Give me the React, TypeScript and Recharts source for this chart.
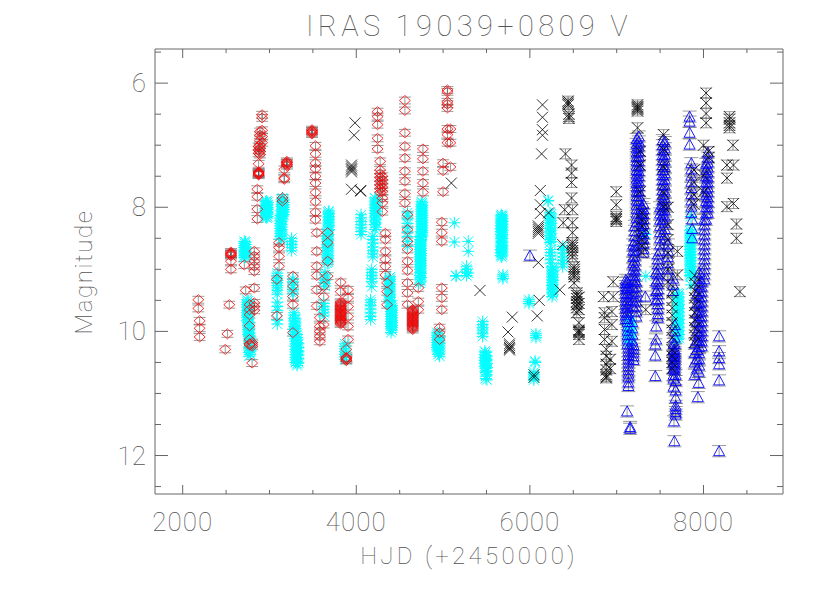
import React from "react";
import { ScatterChart, Scatter, XAxis, YAxis, ErrorBar } from "recharts";

type Col = [number, number[]];

const xTicks = [2000, 2500, 3000, 3500, 4000, 4500, 5000, 5500, 6000, 6500, 7000, 7500, 8000, 8500];
const yTicks = [5.5, 6, 6.5, 7, 7.5, 8, 8.5, 9, 9.5, 10, 10.5, 11, 11.5, 12, 12.5];

// one entry per observing run: [HJD, magnitudes]
const cyanCols: Col[] = [
  [2710, [8.55, 8.58, 8.62, 8.65, 8.69, 8.72, 8.75, 8.78, 8.81]],
  [2742, [9.49, 9.53, 9.57, 9.61, 9.66, 9.7, 9.74, 9.78, 9.83]],
  [2765, [9.86, 9.9, 9.95, 9.99, 10.03, 10.07, 10.11, 10.16, 10.2, 10.25, 10.3, 10.34, 10.4]],
  [2968, [7.9, 7.93, 7.97, 8.0, 8.03, 8.07, 8.1, 8.14, 8.17]],
  [3150, [7.85, 7.89, 7.93, 7.97, 8.01, 8.05, 8.09, 8.13]],
  [3125, [8.13, 8.17, 8.21, 8.26, 8.3, 8.34, 8.38, 8.42, 8.47, 8.52]],
  [3255, [8.5, 8.55, 8.6, 8.65, 8.7]],
  [3090, [9.06, 9.1, 9.14, 9.18, 9.22, 9.26, 9.3, 9.34, 9.4, 9.53, 9.6, 9.66, 9.82, 9.88]],
  [3270, [9.15, 9.2, 9.25, 9.3, 9.35, 9.4]],
  [3285, [9.7, 9.74, 9.79, 9.83, 9.88, 9.92, 9.97, 10.01, 10.05]],
  [3318, [10.05, 10.1, 10.14, 10.18, 10.22, 10.26, 10.31, 10.35, 10.39, 10.44, 10.48, 10.52, 10.55]],
  [3335, [10.2, 10.26, 10.32, 10.38, 10.44, 10.5]],
  [3685, [8.06, 8.1, 8.15, 8.2, 8.25, 8.3, 8.36]],
  [3665, [8.42, 8.46, 8.5, 8.55, 8.6, 8.65, 8.7, 8.75, 8.8, 8.85, 8.9]],
  [3640, [9.05, 9.09, 9.14, 9.18, 9.23, 9.27]],
  [3625, [9.55, 9.6, 9.65, 9.7, 9.75]],
  [3870, [10.2, 10.24, 10.28, 10.32, 10.37, 10.41, 10.45]],
  [4055, [8.12, 8.17, 8.23, 8.28, 8.33, 8.39, 8.44]],
  [4215, [7.85, 7.9, 7.95, 8.0, 8.05, 8.1, 8.16, 8.22, 8.28, 8.36]],
  [4190, [8.47, 8.52, 8.58, 8.64, 8.7, 8.75, 8.8]],
  [4178, [9.0, 9.05, 9.1, 9.15, 9.2, 9.28]],
  [4165, [9.49, 9.53, 9.58, 9.64, 9.7, 9.76, 9.81]],
  [4390, [9.12, 9.16, 9.2, 9.25, 9.3, 9.35, 9.4, 9.45, 9.5, 9.54]],
  [4400, [9.6, 9.64, 9.68, 9.72, 9.76, 9.8, 9.84, 9.88, 9.92, 9.96, 10.02]],
  [4590, [8.09, 8.14, 8.19, 8.26, 8.33, 8.4, 8.47, 8.55, 8.63]],
  [4750, [7.91, 7.95, 7.99, 8.03, 8.07, 8.11, 8.15, 8.19, 8.23, 8.27, 8.31, 8.35, 8.39, 8.43, 8.47]],
  [4735, [8.47, 8.52, 8.56, 8.6, 8.64, 8.68, 8.72, 8.76, 8.8, 8.84, 8.88, 8.92, 8.96, 9.0, 9.05, 9.1, 9.16, 9.22]],
  [4930, [10.02, 10.06, 10.1, 10.14, 10.18, 10.22, 10.26, 10.3]],
  [4960, [10.1, 10.15, 10.2, 10.25, 10.3, 10.35, 10.4]],
  [5130, [8.25, 8.56]],
  [5150, [9.1, 9.11]],
  [5290, [8.55, 8.71, 9.06]],
  [5270, [8.95, 9.0, 9.05, 9.1]],
  [5675, [8.12, 8.16, 8.21, 8.26, 8.31, 8.36, 8.41, 8.47, 8.53, 8.59, 8.65, 8.7, 8.75, 8.8]],
  [5690, [9.09, 9.12, 9.15]],
  [5456, [9.84, 9.89, 9.94, 9.98, 10.03, 10.08]],
  [5480, [10.32, 10.37, 10.42, 10.47, 10.52, 10.57]],
  [5505, [10.4, 10.46, 10.52, 10.58, 10.64, 10.7, 10.78]],
  [5990, [9.49, 9.52, 9.55]],
  [6070, [10.04, 10.07, 10.1]],
  [6060, [10.48, 10.5]],
  [6046, [10.66, 10.69, 10.72, 10.75, 10.78]],
  [6210, [7.89, 7.9]],
  [6232, [8.09, 8.14, 8.19, 8.24, 8.29, 8.34, 8.4, 8.46, 8.52, 8.57]],
  [6240, [8.68, 8.73, 8.78, 8.84, 8.9]],
  [6255, [8.96, 9.01, 9.06, 9.11, 9.16, 9.21, 9.26, 9.32, 9.38, 9.44]],
  [6378, [8.63, 8.68, 8.74, 8.8, 8.86, 8.91, 8.96]],
  [7140, [9.81, 9.86, 9.92, 9.98, 10.04, 10.1, 10.18]],
  [7160, [9.9, 9.96, 10.02, 10.08]],
  [7336, [8.44, 9.11]],
  [7705, [9.38, 9.43, 9.48, 9.54, 9.6, 9.66, 9.72, 9.78, 9.84, 9.9, 9.96, 10.02, 10.08, 10.13]],
  [7855, [8.15, 8.36, 8.41, 8.46, 8.51, 8.56, 8.61, 8.66, 8.71, 8.76, 8.81, 8.86, 8.91, 8.96, 9.02, 9.08, 9.12, 9.25]],
];

// the bands that read as solid in the picture hold many more points
const cyanDenseCols: Col[] = [
  [2725, [8.56, 8.6, 8.64, 8.67, 8.71, 8.74, 8.77, 8.8]],
  [2755, [9.51, 9.55, 9.59, 9.64, 9.68, 9.72, 9.76, 9.81, 9.85, 9.88, 9.93, 9.97, 10.01, 10.05]],
  [2780, [10.09, 10.13, 10.18, 10.23, 10.28, 10.32, 10.37]],
  [2955, [7.91, 7.95, 7.99, 8.02, 8.05, 8.09, 8.12, 8.16]],
  [2980, [7.92, 7.96, 8.01, 8.04, 8.08, 8.11, 8.15]],
  [3140, [7.87, 7.91, 7.95, 7.99, 8.03, 8.07, 8.11, 8.15, 8.19, 8.23, 8.28, 8.32, 8.36, 8.4, 8.45, 8.5]],
  [3165, [7.88, 7.92, 7.96, 8.0, 8.04, 8.08, 8.12]],
  [3300, [9.8, 9.85, 9.9, 9.95, 10.0, 10.04, 10.08, 10.12, 10.16, 10.2, 10.24, 10.29, 10.33, 10.37, 10.42, 10.46, 10.5]],
  [3678, [8.08, 8.12, 8.17, 8.22, 8.27, 8.32, 8.38, 8.44, 8.48, 8.53, 8.58, 8.62, 8.67, 8.72, 8.78, 8.83, 8.88]],
  [4225, [7.87, 7.92, 7.97, 8.02, 8.07, 8.13, 8.19, 8.25, 8.32]],
  [4380, [9.14, 9.18, 9.23, 9.28, 9.33, 9.38, 9.43, 9.48, 9.52]],
  [4412, [9.58, 9.62, 9.66, 9.7, 9.74, 9.78, 9.82, 9.86, 9.9, 9.94, 9.98]],
  [4760, [7.93, 7.97, 8.01, 8.05, 8.09, 8.13, 8.17, 8.21, 8.25, 8.29, 8.33, 8.37, 8.41, 8.45]],
  [4745, [8.49, 8.54, 8.58, 8.62, 8.66, 8.7, 8.74, 8.78, 8.82, 8.86, 8.9, 8.94, 8.98, 9.03, 9.07, 9.13, 9.19]],
  [4945, [10.04, 10.08, 10.12, 10.16, 10.2, 10.24, 10.28, 10.33, 10.37]],
  [5665, [8.14, 8.19, 8.24, 8.29, 8.34, 8.39, 8.44, 8.5, 8.56, 8.62, 8.68, 8.73, 8.78]],
  [5685, [8.14, 8.18, 8.23, 8.28, 8.33, 8.38, 8.44, 8.5, 8.56, 8.62, 8.67, 8.72, 8.77]],
  [5492, [10.34, 10.39, 10.44, 10.49, 10.55, 10.6, 10.66, 10.72, 10.76]],
  [6245, [8.11, 8.16, 8.21, 8.26, 8.32, 8.37, 8.43, 8.49, 8.55]],
  [6265, [8.98, 9.03, 9.08, 9.13, 9.18, 9.24, 9.29, 9.35, 9.41]],
  [7150, [9.83, 9.88, 9.94, 10.0, 10.06, 10.12, 10.16]],
  [7718, [9.4, 9.45, 9.51, 9.57, 9.63, 9.69, 9.75, 9.81, 9.87, 9.93, 9.99, 10.05, 10.11]],
  [7845, [8.38, 8.43, 8.48, 8.53, 8.58, 8.63, 8.68, 8.73, 8.78, 8.83, 8.88, 8.93, 8.99, 9.05, 9.1]],
];

const redCols: Col[] = [
  [2180, [9.49, 9.63]],
  [2195, [9.83, 9.95, 10.09]],
  [2537, [9.57]],
  [2515, [10.04]],
  [2490, [10.29]],
  [2556, [8.72, 8.74, 8.75, 8.76, 8.78, 8.87, 9.0]],
  [2710, [8.93]],
  [2726, [9.34]],
  [2825, [8.71, 8.79, 8.87, 8.95, 9.03, 9.3, 9.54, 9.6, 9.66]],
  [2770, [9.57, 9.65, 9.73, 9.91, 10.13, 10.2, 10.22]],
  [2800, [10.18, 10.21, 10.24, 10.51]],
  [2915, [6.51, 6.56, 6.76, 6.86, 6.96]],
  [2890, [6.78, 6.84, 6.92, 7.0, 7.05, 7.1, 7.15]],
  [2875, [7.02, 7.08, 7.13, 7.3, 7.43, 7.44, 7.45, 7.46, 7.47, 7.48]],
  [2860, [7.71, 7.83, 8.03, 8.19]],
  [3200, [7.26, 7.28, 7.29, 7.31, 7.33]],
  [3170, [7.39, 7.53, 7.55]],
  [3150, [7.85, 7.9]],
  [3110, [8.57, 8.65, 8.79, 8.95]],
  [3085, [9.16, 9.75]],
  [3270, [9.11, 9.27, 9.44, 9.57, 10.02]],
  [3490, [6.75, 6.77, 6.78, 6.8, 6.82]],
  [3530, [7.01, 7.14, 7.29, 7.38, 7.5, 7.61, 7.76, 7.91, 8.08, 8.2]],
  [3545, [8.41, 8.71, 8.95, 9.1, 9.33, 9.59]],
  [3580, [9.78, 9.92, 10.0, 10.08, 10.16]],
  [3625, [9.27, 9.44, 9.89]],
  [3670, [8.41, 8.57, 8.87, 9.11]],
  [3820, [9.21, 9.36, 9.53, 9.55, 9.57, 9.59, 9.61, 9.63, 9.65, 9.68, 9.7, 9.72, 9.74, 9.76, 9.78, 9.8, 9.82, 9.84, 9.86, 9.88]],
  [3905, [9.33, 9.46, 9.6, 9.76, 9.92, 10.13]],
  [3885, [10.29, 10.42, 10.43, 10.44, 10.46, 10.47]],
  [4245, [6.46, 6.54, 6.67, 6.89, 7.06]],
  [4275, [7.26, 7.4, 7.46, 7.52, 7.58, 7.64, 7.7, 7.76]],
  [4300, [7.5, 7.56, 7.62, 7.68, 7.75, 7.85, 7.93, 8.07]],
  [4335, [8.42, 8.52, 8.71, 8.84, 8.95, 9.09]],
  [4355, [9.22, 9.36, 9.57]],
  [4560, [6.28, 6.44, 6.8, 7.02, 7.21, 7.42, 7.58, 7.78, 7.93]],
  [4590, [8.12, 8.36, 8.55, 8.68, 8.87, 9.02, 9.22, 9.38, 9.57]],
  [4650, [9.65, 9.67, 9.69, 9.71, 9.73, 9.75, 9.77, 9.79, 9.81, 9.83, 9.85, 9.87, 9.89, 9.91, 9.93, 9.95, 9.97]],
  [4768, [7.06, 7.22, 7.42, 7.61, 7.76]],
  [4715, [9.3, 9.52, 9.65]],
  [5050, [6.11, 6.14, 6.3, 6.4, 6.34, 6.74, 6.83, 6.96]],
  [5000, [7.29, 7.41, 7.75]],
  [5085, [6.96, 6.74, 7.35]],
  [4985, [8.24, 8.41, 8.55, 9.3, 9.46, 9.65]],
  [4960, [9.94, 10.02, 10.13]],
];

const blackEarlyCols: Col[] = [
  [3985, [6.64]],
  [3975, [6.84]],
  [3945, [7.32, 7.35, 7.38, 7.4, 7.43, 7.71]],
  [4050, [7.73, 7.74]],
  [5095, [7.61]],
  [5425, [9.34]],
  [5797, [9.77]],
  [5748, [10.01]],
  [5765, [10.2, 10.23, 10.26, 10.28, 10.3]],
  [6145, [6.35, 6.55, 6.75, 6.84]],
  [6135, [7.14]],
  [6120, [7.73, 7.96, 8.1]],
  [6097, [8.3, 8.33, 8.36, 8.39, 8.42, 8.89]],
  [6108, [9.5]],
  [6085, [9.75]],
  [6047, [10.7, 10.74]],
  [6215, [8.09]],
  [6345, [9.33]],
  [6378, [8.6]],
];

const blackLateCols: Col[] = [
  [6440, [6.29, 6.32, 6.35]],
  [6450, [6.5, 6.54, 6.57]],
  [6410, [7.14]],
  [6480, [7.32, 7.45, 7.6, 7.85]],
  [6400, [8.04]],
  [6385, [8.25]],
  [6490, [8.04, 8.25, 8.41, 8.57, 8.61, 8.65, 8.7, 8.75, 8.8]],
  [6510, [8.96, 9.0, 9.04, 9.08, 9.12, 9.22]],
  [6540, [9.38, 9.42, 9.47, 9.52, 9.57, 9.62, 9.7]],
  [6565, [9.45, 9.55, 9.65, 9.86, 9.98, 10.0, 10.02, 10.05, 10.13]],
  [6850, [9.44]],
  [6960, [9.2, 9.44]],
  [6860, [9.7, 9.78, 9.97, 10.13]],
  [6945, [9.68, 9.89, 10.16]],
  [6880, [10.29, 10.4, 10.53, 10.62, 10.7, 10.73, 10.75]],
  [6925, [10.45, 10.6]],
  [6995, [7.75, 7.96, 8.15, 8.18, 8.2, 8.23]],
  [7240, [6.35, 6.38, 6.4, 6.42, 6.45, 6.72]],
  [7270, [7.1, 7.32, 7.75]],
  [7290, [8.09, 8.2, 8.3, 8.42, 8.52, 8.62, 8.73]],
  [7335, [9.65]],
  [7540, [6.83, 7.07, 7.35, 7.77, 7.99]],
  [7590, [8.0, 8.28, 8.52, 8.74, 9.0, 9.2]],
  [7700, [8.71, 9.09]],
  [7640, [9.38, 9.5, 9.62, 9.74, 9.86, 9.98, 10.1, 10.3, 10.4, 10.5, 10.6]],
  [7900, [9.1, 9.22, 9.34, 9.46, 9.58, 9.7, 9.82, 9.94, 10.06, 10.18]],
  [7890, [7.4, 7.6, 7.8, 7.95]],
  [8030, [6.16, 6.32, 6.49, 6.64]],
  [8000, [7.0, 7.48, 7.75]],
  [8060, [7.1, 7.2]],
  [8300, [6.54, 6.58, 6.64, 6.68, 6.72]],
  [8340, [7.0]],
  [8270, [7.32, 7.53, 7.99]],
  [8345, [7.32, 7.94]],
  [8380, [8.27, 8.5]],
  [8420, [9.36]],
];

const blueCols: Col[] = [
  [6000, [8.78]],
  [7105, [9.17, 9.22, 9.27, 9.32, 9.38, 9.44, 9.5, 9.56, 9.62, 9.68, 9.74, 9.8]],
  [7125, [9.2, 9.3, 9.4, 9.5, 9.6, 9.7, 9.8, 9.85, 9.92, 9.99, 10.06, 10.13, 10.2]],
  [7135, [10.26, 10.32, 10.38, 10.44, 10.5, 10.56, 10.62, 10.68, 10.74, 10.82, 10.88]],
  [7120, [11.29]],
  [7155, [11.54, 11.57]],
  [7230, [6.9, 6.98, 7.05, 7.12, 7.19, 7.26, 7.33, 7.4, 7.47, 7.54, 7.61, 7.68, 7.75, 7.82, 7.89, 7.96, 8.03, 8.1, 8.17, 8.24]],
  [7255, [6.86, 6.94, 7.02, 7.1, 7.18, 7.26, 7.34, 7.42, 7.5, 7.58, 7.66, 7.74, 7.82, 7.9]],
  [7210, [8.3, 8.38, 8.46, 8.54, 8.62, 8.7, 8.78, 8.86, 8.94, 9.02, 9.1, 9.17]],
  [7190, [8.6, 8.7, 8.8, 8.9, 9.0, 9.1, 9.2, 9.3, 9.4, 9.5, 9.6]],
  [7225, [9.2, 9.28, 9.36, 9.44, 9.52, 9.6, 9.68, 9.76]],
  [7180, [9.85, 9.95, 10.05, 10.15]],
  [7195, [10.22, 10.28, 10.34, 10.4, 10.46]],
  [7310, [7.95, 8.03, 8.11, 8.19, 8.27, 8.35, 8.43, 8.51, 8.59, 8.67, 8.73]],
  [7290, [8.0, 8.1, 8.2, 8.3, 8.4, 8.5]],
  [7330, [9.44]],
  [7530, [6.92, 7.0, 7.08, 7.16, 7.24, 7.32, 7.4, 7.48, 7.56, 7.64, 7.72, 7.8, 7.88, 7.96, 8.04, 8.12, 8.2]],
  [7555, [6.95, 7.05, 7.15, 7.25, 7.35, 7.45, 7.55, 7.65, 7.75, 7.85, 7.95, 8.05, 8.15, 8.25, 8.35, 8.45, 8.52]],
  [7500, [8.0, 8.1, 8.2, 8.3, 8.4, 8.5, 8.6, 8.7]],
  [7475, [8.76, 8.84, 8.92, 9.0, 9.08, 9.16, 9.24, 9.32, 9.4, 9.48, 9.56, 9.64, 9.72, 9.78]],
  [7455, [9.05, 9.2, 9.35, 9.5, 9.92, 10.13]],
  [7445, [10.21, 10.39, 10.72]],
  [7590, [8.6, 8.7, 8.8, 8.9, 9.0, 9.1]],
  [7650, [9.15, 9.25, 9.35]],
  [7670, [9.9, 10.0, 10.1, 10.2, 10.29, 10.33, 10.37, 10.41, 10.45, 10.49, 10.53, 10.57, 10.62]],
  [7655, [10.2, 10.3, 10.4, 10.5, 10.6, 10.7, 10.76, 10.89]],
  [7680, [10.7, 10.8, 10.95, 11.07, 11.2, 11.25, 11.3, 11.34]],
  [7660, [11.45]],
  [7665, [11.77]],
  [7840, [6.54, 6.62, 6.8, 6.99]],
  [7860, [7.29, 7.39, 7.49, 7.59, 7.69, 7.79, 7.89, 7.99, 8.09]],
  [7870, [8.2, 8.35, 8.5]],
  [8050, [7.12, 7.2, 7.28, 7.36, 7.44, 7.52, 7.6, 7.68, 7.76, 7.84, 7.92, 8.0, 8.09]],
  [8030, [7.3, 7.4, 7.5, 7.6, 7.7, 7.8, 7.9, 8.0, 8.1, 8.2]],
  [8010, [8.2, 8.28, 8.36, 8.44, 8.52, 8.6, 8.68, 8.76, 8.84, 8.92, 9.0, 9.08, 9.16]],
  [7980, [9.2, 9.28, 9.36, 9.44, 9.52, 9.6, 9.68, 9.76, 9.84, 9.92, 10.0, 10.08, 10.16, 10.24]],
  [7950, [9.05, 9.15, 9.25, 9.35, 9.45, 9.55, 9.65, 9.75, 9.85, 9.95, 10.05, 10.15, 10.25, 10.35, 10.45, 10.55]],
  [7925, [9.4, 9.55, 9.7, 9.85, 10.0, 10.15, 10.3, 10.45, 10.6]],
  [7900, [10.2, 10.35, 10.5, 10.7]],
  [7945, [10.65, 10.83]],
  [7935, [11.06]],
  [8180, [10.08, 10.32, 10.43, 10.53, 10.79, 11.93]],
];

const toRows = (cols: Col[], err: number) =>
  cols.flatMap(([hjd, mags]) => mags.map((mag) => ({ hjd, mag, err })));

const GREY = "#666";
const TEXT = "#555";
const FONT = "Roboto, sans-serif";

const Diamond = ({ cx, cy }: any) => (
  <path d={`M${cx - 5.5} ${cy}L${cx} ${cy - 5}L${cx + 5.5} ${cy}L${cx} ${cy + 5}Z`} fill="none" stroke="#f00" strokeWidth={0.8} />
);
const Cross = ({ cx, cy }: any) => (
  <path d={`M${cx - 5.5} ${cy - 5.5}L${cx + 5.5} ${cy + 5.5}M${cx - 5.5} ${cy + 5.5}L${cx + 5.5} ${cy - 5.5}`} fill="none" stroke="#000" strokeWidth={0.8} />
);
const Star = ({ cx, cy }: any) => (
  <path
    d={`M${cx - 5} ${cy - 5}L${cx + 5} ${cy + 5}M${cx - 5} ${cy + 5}L${cx + 5} ${cy - 5}M${cx} ${cy - 6}L${cx} ${cy + 6}M${cx - 6} ${cy}L${cx + 6} ${cy}`}
    fill="none"
    stroke="#0ff"
    strokeWidth={1}
  />
);
const Triangle = ({ cx, cy }: any) => (
  <path d={`M${cx - 5.5} ${cy + 4.5}L${cx} ${cy - 5.5}L${cx + 5.5} ${cy + 4.5}Z`} fill="none" stroke="#00f" strokeWidth={0.9} />
);

const BottomTick = ({ x, y, payload }: any) => {
  const major = payload.value % 2000 === 0;
  return (
    <g>
      <line x1={x} y1={y} x2={x} y2={y - (major ? 9 : 4)} stroke={GREY} />
      {major && (
        <text x={x} y={y + 37} textAnchor="middle" fill={TEXT} fontFamily={FONT} fontWeight={100} fontSize={26} letterSpacing={1}>
          {payload.value}
        </text>
      )}
    </g>
  );
};
const TopTick = ({ x, y, payload }: any) => (
  <line x1={x} y1={y} x2={x} y2={y + (payload.value % 2000 === 0 ? 9 : 4)} stroke={GREY} />
);
const LeftTick = ({ x, y, payload }: any) => {
  const major = payload.value % 2 === 0;
  return (
    <g>
      <line x1={x} y1={y} x2={x + (major ? 13 : 6)} y2={y} stroke={GREY} />
      {major && (
        <text x={x - 9} y={y + 9} textAnchor="end" fill={TEXT} fontFamily={FONT} fontWeight={100} fontSize={26}>
          {payload.value}
        </text>
      )}
    </g>
  );
};
const RightTick = ({ x, y, payload }: any) => (
  <line x1={x} y1={y} x2={x - (payload.value % 2 === 0 ? 13 : 6)} y2={y} stroke={GREY} />
);

export default function App() {
  const axisLine = { stroke: GREY };
  return (
    <div style={{ position: "absolute", left: 0, top: 0, width: 830, height: 593, background: "#fff" }}>
      <ScatterChart width={830} height={593} margin={{ top: 48, right: 46, bottom: 98, left: 154 }}>
        <XAxis xAxisId="b" type="number" dataKey="hjd" domain={[1681, 8916]} ticks={xTicks} height={1} tickSize={0} tickMargin={0} tickLine={false} axisLine={axisLine} tick={BottomTick} interval={0} allowDataOverflow />
        <XAxis xAxisId="t" orientation="top" type="number" dataKey="hjd" domain={[1681, 8916]} ticks={xTicks} height={1} tickSize={0} tickMargin={0} tickLine={false} axisLine={axisLine} tick={TopTick} interval={0} allowDataOverflow />
        <YAxis yAxisId="l" type="number" dataKey="mag" reversed domain={[5.45, 12.62]} ticks={yTicks} width={1} tickSize={0} tickMargin={0} tickLine={false} axisLine={axisLine} tick={LeftTick} interval={0} allowDataOverflow />
        <YAxis yAxisId="r" orientation="right" type="number" dataKey="mag" reversed domain={[5.45, 12.62]} ticks={yTicks} width={1} tickSize={0} tickMargin={0} tickLine={false} axisLine={axisLine} tick={RightTick} interval={0} allowDataOverflow />

        <Scatter xAxisId="b" yAxisId="l" data={toRows(cyanCols, 0.012)} shape={Star} isAnimationActive={false}>
          <ErrorBar dataKey="err" direction="y" width={2} stroke="#000" strokeWidth={0.4} isAnimationActive={false} />
        </Scatter>
        <Scatter xAxisId="b" yAxisId="l" data={toRows(cyanDenseCols, 0)} shape={Star} isAnimationActive={false} />
        <Scatter xAxisId="b" yAxisId="l" data={toRows(redCols, 0.055)} shape={Diamond} isAnimationActive={false}>
          <ErrorBar dataKey="err" direction="y" width={6} stroke="#555" strokeWidth={0.6} isAnimationActive={false} />
        </Scatter>
        <Scatter xAxisId="b" yAxisId="l" data={toRows(blueCols, 0.09)} shape={Triangle} isAnimationActive={false}>
          <ErrorBar dataKey="err" direction="y" width={7} stroke="#555" strokeWidth={0.6} isAnimationActive={false} />
        </Scatter>
        <Scatter xAxisId="b" yAxisId="l" data={toRows(blackEarlyCols, 0)} shape={Cross} isAnimationActive={false} />
        <Scatter xAxisId="b" yAxisId="l" data={toRows(blackLateCols, 0.08)} shape={Cross} isAnimationActive={false}>
          <ErrorBar dataKey="err" direction="y" width={6} stroke="#555" strokeWidth={0.6} isAnimationActive={false} />
        </Scatter>

        <text x={469} y={36} textAnchor="middle" fill={TEXT} fontFamily={FONT} fontWeight={100} fontSize={29} letterSpacing={4.4}>
          IRAS 19039+0809 V
        </text>
        <text x={469} y={564} textAnchor="middle" fill={TEXT} fontFamily={FONT} fontWeight={100} fontSize={24} letterSpacing={3.3}>
          HJD (+2450000)
        </text>
        <text x={92} y={272} transform="rotate(-90 92 272)" textAnchor="middle" fill={TEXT} fontFamily={FONT} fontWeight={100} fontSize={24} letterSpacing={1.6}>
          Magnitude
        </text>
      </ScatterChart>
    </div>
  );
}
